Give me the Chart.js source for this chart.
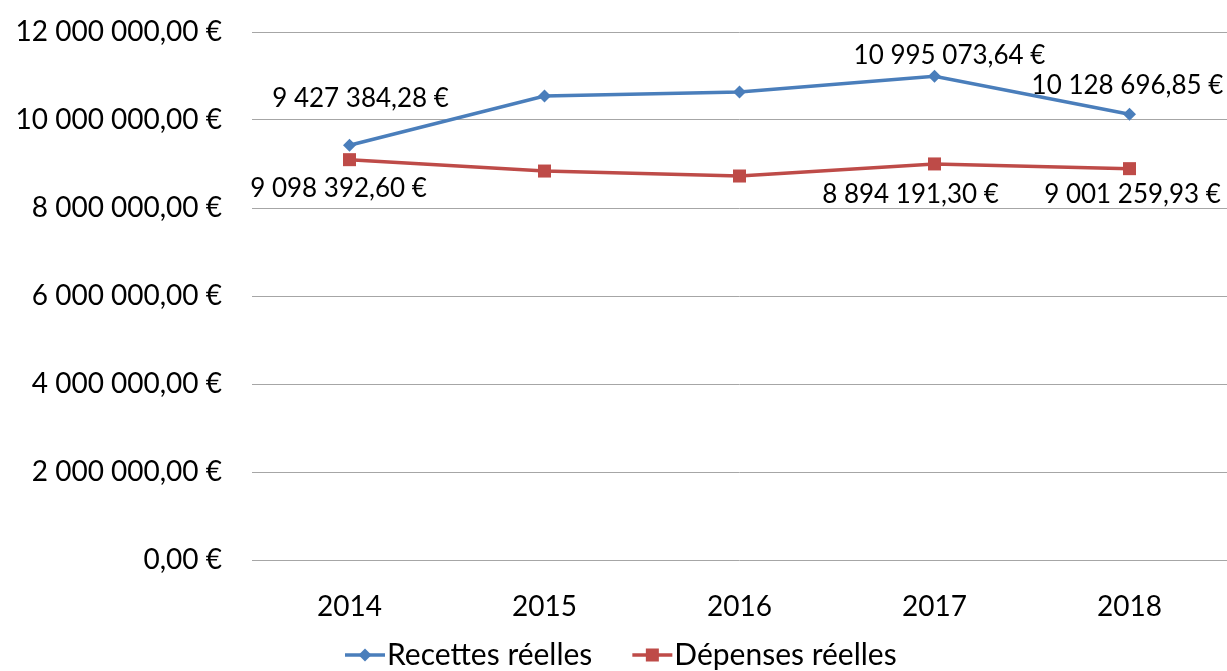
<!DOCTYPE html>
<html><head><meta charset="utf-8">
<script src="https://cdn.jsdelivr.net/npm/chart.js@4"></script>
<style>html,body{margin:0;padding:0;background:#fff}</style>
</head><body>
<canvas id="c" width="1227" height="671"></canvas>
<script>
const years = ['2014', '2015', '2016', '2017', '2018'];
const recettes = [9427384.28, 10545000, 10636000, 10995073.64, 10128696.85];
const depenses = [9098392.60, 8840000, 8727000, 9001259.93, 8894191.30];
const recettesLabels = ['9 427 384,28 €', null, null, '10 995 073,64 €', '10 128 696,85 €'];
const depensesLabels = ['9 098 392,60 €', null, null, '8 894 191,30 €', '9 001 259,93 €'];
const yMin = 0, yMax = 12000000, yStep = 2000000;

function fmtEuro(v) {
  const neg = v < 0; v = Math.abs(v);
  const parts = v.toFixed(2).split('.');
  const intPart = parts[0].replace(/\B(?=(\d{3})+(?!\d))/g, ' ');
  return (neg ? '-' : '') + intPart + ',' + parts[1] + ' €';
}

const FONT = 'Lato';
const BLUE = '#4a7ebb', RED = '#be4b48';

// label offsets (style) relative to each point
const labelOffsets = [
  [[11, -47], null, null, [15, -21], [-2, -29]],
  [[-11, 29], null, null, [-24, 31], [3, 26]]
];
const labelTexts = [recettesLabels, depensesLabels];

const dataLabelPlugin = {
  id: 'dataLabels',
  afterDatasetsDraw(chart) {
    const ctx = chart.ctx;
    ctx.save();
    ctx.font = '26px ' + FONT;
    ctx.fillStyle = '#000';
    ctx.textAlign = 'center';
    ctx.textBaseline = 'middle';
    chart.data.datasets.forEach((ds, di) => {
      const meta = chart.getDatasetMeta(di);
      meta.data.forEach((pt, i) => {
        const t = labelTexts[di][i];
        if (!t) return;
        const off = labelOffsets[di][i] || [0, -20];
        ctx.fillText(t, pt.x + off[0], pt.y + off[1]);
      });
    });
    ctx.restore();
  }
};

const legendPlugin = {
  id: 'customLegend',
  afterDraw(chart) {
    const ctx = chart.ctx;
    ctx.save();
    ctx.font = '30px ' + FONT;
    ctx.textBaseline = 'middle';
    ctx.textAlign = 'left';
    const y = 655;
    const items = chart.data.datasets.map(d => ({label: d.label, color: d.borderColor, style: d.pointStyle}));
    const lineW = 40, gap = 2, between = 40;
    let x = 345;
    items.forEach(it => {
      ctx.strokeStyle = it.color; ctx.lineWidth = 3.5;
      ctx.beginPath(); ctx.moveTo(x, y); ctx.lineTo(x + lineW, y); ctx.stroke();
      ctx.fillStyle = it.color;
      const cx = x + lineW / 2;
      if (it.style === 'rectRot') {
        ctx.beginPath(); ctx.moveTo(cx, y - 6.5); ctx.lineTo(cx + 6.5, y); ctx.lineTo(cx, y + 6.5); ctx.lineTo(cx - 6.5, y); ctx.closePath(); ctx.fill();
      } else {
        ctx.fillRect(cx - 6.5, y - 6.5, 13, 13);
      }
      ctx.fillStyle = '#000';
      ctx.fillText(it.label, x + lineW + gap, y);
      x += lineW + gap + ctx.measureText(it.label).width + between;
    });
    ctx.restore();
  }
};

new Chart(document.getElementById('c'), {
  type: 'line',
  data: {
    labels: years,
    datasets: [
      { label: 'Recettes réelles', data: recettes, borderColor: BLUE, backgroundColor: BLUE,
        borderWidth: 3.5, pointStyle: 'rectRot', pointRadius: 6.5, pointBorderWidth: 0, tension: 0, clip: false },
      { label: 'Dépenses réelles', data: depenses, borderColor: RED, backgroundColor: RED,
        borderWidth: 3.5, pointStyle: 'rect', pointRadius: 9.2, pointBorderWidth: 0, tension: 0, clip: false }
    ]
  },
  options: {
    responsive: false,
    devicePixelRatio: 1,
    animation: false,
    layout: { autoPadding: false, padding: { top: 32, bottom: 51, left: 0, right: 0 } },
    plugins: { legend: { display: false }, tooltip: { enabled: false } },
    scales: {
      x: {
        offset: true,
        grid: { display: false, offset: true },
        border: { display: false },
        ticks: { color: '#000', font: { family: FONT, size: 28 }, padding: 22, maxRotation: 0 },
        afterFit(s) { s.height = 60; s.paddingLeft = 0; s.paddingRight = 0; }
      },
      y: {
        min: yMin, max: yMax,
        grid: { color: '#a6a6a6', lineWidth: 1, drawTicks: false },
        border: { display: false },
        ticks: { stepSize: yStep, color: '#000', font: { family: FONT, size: 28 }, padding: 30,
                 callback: v => fmtEuro(v) },
        afterFit(s) { s.width = 252; s.paddingTop = 0; s.paddingBottom = 0; }
      }
    }
  },
  plugins: [dataLabelPlugin, legendPlugin]
});
</script>
</body></html>
